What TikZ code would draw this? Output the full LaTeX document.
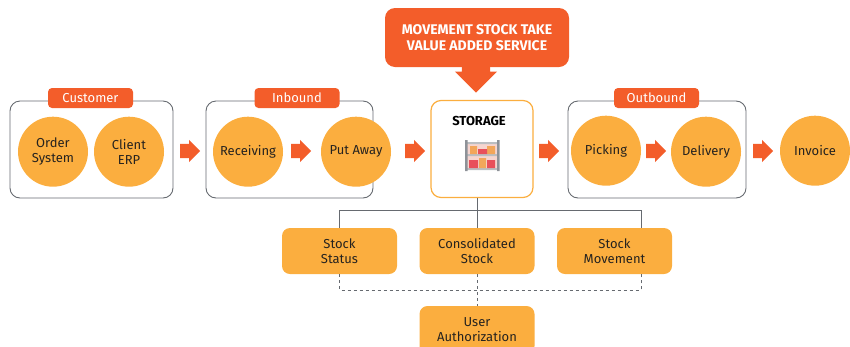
\documentclass[tikz,border=0pt]{standalone}
\usepackage{fontspec}
\setmainfont{Fira Sans}
\usepackage{tikz}
\usetikzlibrary{shapes.arrows}
\definecolor{tagorange}{HTML}{F35D2A}
\definecolor{discorange}{HTML}{FBAE3F}
\definecolor{framegray}{HTML}{666A70}
\definecolor{inkdark}{HTML}{26231F}
\definecolor{shelfgray}{HTML}{8E9298}
\definecolor{shelfpink}{HTML}{F6D5CF}
\definecolor{shelfred}{HTML}{E8505B}
\definecolor{shelfbox}{HTML}{F2A65A}
\tikzset{
  disc/.style = {circle, fill = discorange, minimum size = 70pt, inner sep = 0pt, align = center, text = inkdark, font = \fontsize{13}{15}\selectfont},
  tagbox/.style = {rounded corners = 4pt, fill = tagorange, text = white, minimum height = 20pt, inner sep = 0pt, font = \fontsize{13}{14}\selectfont},
  framebox/.style = {draw = framegray, rounded corners = 10pt, line width = .9pt, inner sep = 0pt},
  infobox/.style = {rounded corners = 8pt, fill = discorange, text = inkdark, minimum width = 115pt, minimum height = 46pt, inner sep = 0pt, align = center, font = \fontsize{13}{15}\selectfont},
  flowarrow/.style = {single arrow, fill = tagorange, minimum height = 20pt, minimum width = 22pt, single arrow head extend = 4pt, inner xsep = 0pt, inner ysep = 7pt, anchor = tail},
  busline/.style = {draw = framegray, line width = .8pt},
  dashline/.style = {draw = framegray, line width = .6pt, dashed}
}
\begin{document}
\begin{tikzpicture}[x = 1pt, y = -1pt]

      \path[use as bounding box, clip] (0,0) rectangle (850,346);

      % customer group
      \node[framebox, minimum width = 163pt, minimum height = 97pt] (customer) at (91.5,149.5) {};
      \node[tagbox, minimum width = 85pt] (customertag) at (90.5,98) {Customer};
      \node[disc] (order) at (53,151.7) {Order\\System};
      \node[disc] (client) at (129,151.7) {Client\\ERP};
      \node[flowarrow] (arrowa) at (180,151) {};

      % inbound group
      \node[framebox, minimum width = 167pt, minimum height = 97pt] (inbound) at (289.5,149.5) {};
      \node[tagbox, minimum width = 85pt] (inboundtag) at (297,98) {Inbound};
      \node[disc] (receiving) at (248,151.7) {Receiving};
      \node[flowarrow] (arrowb) at (291,151) {};
      \node[disc] (putaway) at (356,151.7) {Put Away};
      \node[flowarrow] (arrowc) at (405,151) {};

      % storage
      \node[framebox, draw = discorange, line width = 1.2pt, minimum width = 102pt, minimum height = 97pt] (storage) at (482,149) {};
      \node[font = \fontsize{13}{14}\selectfont\bfseries, text = black] (storagetitle) at (479,121) {STORAGE};
      \fill[shelfpink] (467,142) rectangle (497,168);
      \fill[shelfgray!60] (467,142) rectangle (497,144) (467,154) rectangle (497,156) (467,168) rectangle (497,170);
      \fill[shelfbox] (470,146) rectangle (477,154) (487,146) rectangle (495,154) (479,158) rectangle (486,168);
      \fill[shelfred] (478,149) rectangle (487,154) (469,160) rectangle (478,168) (487,160) rectangle (495,168);
      \fill[shelfgray] (465,140) rectangle (467.5,171) (497,140) rectangle (499.5,171);

      % callout above the storage
      \node[rounded corners = 10pt, fill = tagorange, text = white, minimum width = 184pt, minimum height = 59pt, inner sep = 0pt, align = center, font = \fontsize{14}{16.5}\selectfont\bfseries] (callout) at (477,37.5) {MOVEMENT STOCK TAKE\\VALUE ADDED SERVICE};
      \node[flowarrow, minimum height = 28pt, minimum width = 42pt, single arrow head extend = 7pt, inner ysep = 14pt, rotate = -90, anchor = tip] (calloutarrow) at (476,93) {};

      % outbound group
      \node[flowarrow] (arrowd) at (539,151) {};
      \node[framebox, minimum width = 178pt, minimum height = 97pt] (outbound) at (657,149.5) {};
      \node[tagbox, minimum width = 85pt] (outboundtag) at (656.5,98) {Outbound};
      \node[disc] (picking) at (606,150.7) {Picking};
      \node[flowarrow] (arrowe) at (646,151) {};
      \node[disc] (delivery) at (706,151.7) {Delivery};
      \node[flowarrow] (arrowf) at (753,151) {};
      \node[disc] (invoice) at (815,150.7) {Invoice};

      % stock boxes
      \node[infobox] (status) at (339.5,251) {Stock\\Status};
      \node[infobox] (consolidated) at (477,251) {Consolidated\\Stock};
      \node[infobox] (movement) at (614.5,251) {Stock\\Movement};
      \node[infobox, minimum height = 48pt] (user) at (477,330) {User\\Authorization};

      \coordinate (busleft) at (339.5,210);
      \coordinate (busmid) at (477,210);
      \coordinate (busright) at (641,210);
      \coordinate (movetop) at (641,228);
      \coordinate (dashleft) at (339.5,290);
      \coordinate (dashright) at (641,290);
      \coordinate (movebottom) at (641,274);

      \draw[busline] (busmid |- storage.south) -- (consolidated.north);
      \draw[busline] (status.north) -- (busleft) -- (busright) -- (movetop);

      \draw[dashline] (status.south) -- (dashleft) -- (dashright) -- (movebottom);
      \draw[dashline] (consolidated.south) -- (user.north);

\end{tikzpicture}
\end{document}
